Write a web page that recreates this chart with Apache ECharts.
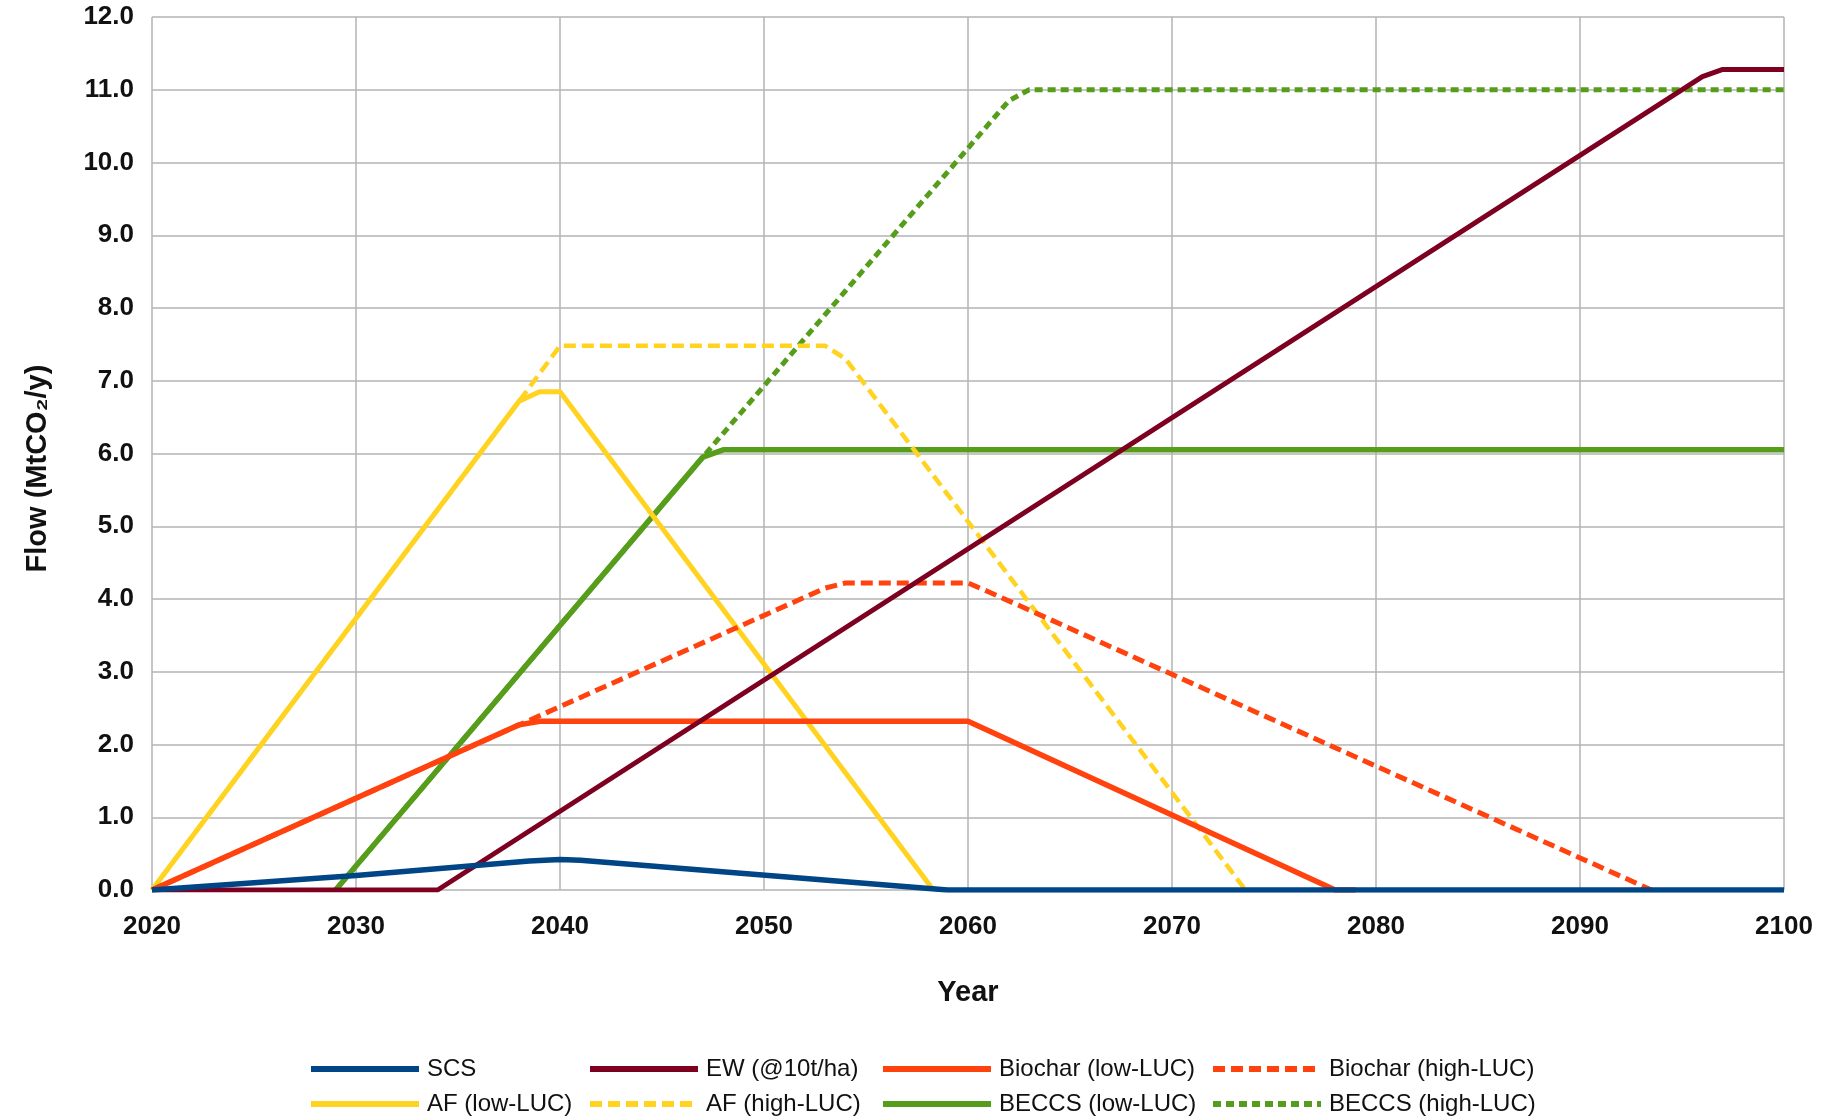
<!DOCTYPE html>
<html>
<head>
<meta charset="utf-8">
<script src="https://cdn.jsdelivr.net/npm/echarts@6/dist/echarts.min.js"></script>
<style>html,body{margin:0;padding:0;background:#fff;}#chart{width:1824px;height:1119px;}</style>
</head>
<body>
<div id="chart"></div>
<script>
// Year ticks / value ticks
const xTicks = [2020, 2030, 2040, 2050, 2060, 2070, 2080, 2090, 2100];
const yTicks = [0, 1, 2, 3, 4, 5, 6, 7, 8, 9, 10, 11, 12];

// Series breakpoints [year, MtCO2/y]
const scs = [[2020, 0], [2030, 0.2], [2038.5, 0.4], [2040, 0.42], [2041, 0.41], [2059, 0], [2100, 0]];
const ew = [[2020, 0], [2034, 0], [2096, 11.18], [2097, 11.28], [2100, 11.28]];
const biocharLow = [[2020, 0], [2038, 2.27], [2039, 2.32], [2060, 2.32], [2078, 0], [2079, 0]];
const biocharHigh = [[2020, 0], [2038, 2.27], [2053, 4.15], [2054, 4.22], [2060, 4.22], [2061, 4.1], [2093.5, 0]];
const afLow = [[2020, 0], [2038, 6.72], [2039, 6.85], [2040, 6.85], [2058.3, 0]];
const afHigh = [[2020, 0], [2038, 6.72], [2040, 7.48], [2053, 7.48], [2054, 7.3], [2073.6, 0]];
const beccsLow = [[2029, 0], [2047, 5.95], [2048, 6.05], [2100, 6.05]];
const beccsHigh = [[2029, 0], [2047, 5.95], [2062, 10.85], [2063, 11.0], [2100, 11.0]];

const names = ['SCS', 'EW (@10t/ha)', 'Biochar (low-LUC)', 'Biochar (high-LUC)',
  'AF (low-LUC)', 'AF (high-LUC)', 'BECCS (low-LUC)', 'BECCS (high-LUC)'];

const C = {blue: '#004586', red: '#7E0021', orange: '#FF420E', yellow: '#FFD320', green: '#579D1C'};

function line(name, data, color, dash, width, z) {
  return {
    name: name, type: 'line', data: data, symbol: 'none', showSymbol: false,
    lineStyle: {color: color, width: width, type: dash || 'solid', cap: 'butt', join: 'round'},
    itemStyle: {color: color}, z: z, animation: false
  };
}

const chart = echarts.init(document.getElementById('chart'));
const fontFam = '"Liberation Sans", Arial, sans-serif';

function legendCol(left, items) {
  return {
    left: left, top: 1057, height: 66, padding: 0, orient: 'vertical',
    itemWidth: 108, itemHeight: 14, itemGap: 11,
    data: items,
    itemStyle: {opacity: 0, borderWidth: 0},
    lineStyle: {width: 6},
    textStyle: {fontFamily: fontFam, fontSize: 24, color: '#111', padding: [0, 0, 0, 3]},
    selectedMode: false
  };
}

chart.setOption({
  backgroundColor: '#fff',
  animation: false,
  grid: {left: 152, right: 40, top: 17, bottom: 229, containLabel: false},
  legend: [
    legendCol(308, [names[0], names[4]]),
    legendCol(587, [names[1], names[5]]),
    legendCol(880, [names[2], names[6]]),
    legendCol(1210, [names[3], names[7]])
  ],
  xAxis: {
    type: 'value', min: xTicks[0], max: xTicks[xTicks.length - 1], interval: 10,
    name: 'Year', nameLocation: 'middle', nameGap: 88,
    nameTextStyle: {fontFamily: fontFam, fontSize: 29, fontWeight: 'bold', color: '#111'},
    axisLine: {show: false}, axisTick: {show: false},
    axisLabel: {fontFamily: fontFam, fontSize: 26, fontWeight: 'bold', color: '#111', margin: 24,
      formatter: v => String(v)},
    splitLine: {show: true, lineStyle: {color: '#b3b3b3', width: 1.5}}
  },
  yAxis: {
    type: 'value', min: yTicks[0], max: yTicks[yTicks.length - 1], interval: 1,
    name: 'Flow (MtCO₂/y)', nameLocation: 'middle', nameGap: 100,
    nameTextStyle: {fontFamily: fontFam, fontSize: 29, fontWeight: 'bold', color: '#111',
      padding: [0, 30, 0, 0]},
    axisLine: {show: false}, axisTick: {show: false},
    axisLabel: {fontFamily: fontFam, fontSize: 26, fontWeight: 'bold', color: '#111', margin: 18,
      formatter: v => v.toFixed(1)},
    splitLine: {show: true, lineStyle: {color: '#b3b3b3', width: 1.5}}
  },
  series: [
    line(names[6], beccsLow, C.green, 'solid', 5.5, 2),
    line(names[7], beccsHigh, C.green, [8, 5], 5, 2),
    line(names[4], afLow, C.yellow, 'solid', 5, 3),
    line(names[5], afHigh, C.yellow, [12, 6], 4.5, 3),
    line(names[2], biocharLow, C.orange, 'solid', 5.5, 4),
    line(names[3], biocharHigh, C.orange, [12, 6], 5, 4),
    line(names[1], ew, C.red, 'solid', 5, 5),
    line(names[0], scs, C.blue, 'solid', 5.5, 6)
  ]
});
</script>
</body>
</html>
